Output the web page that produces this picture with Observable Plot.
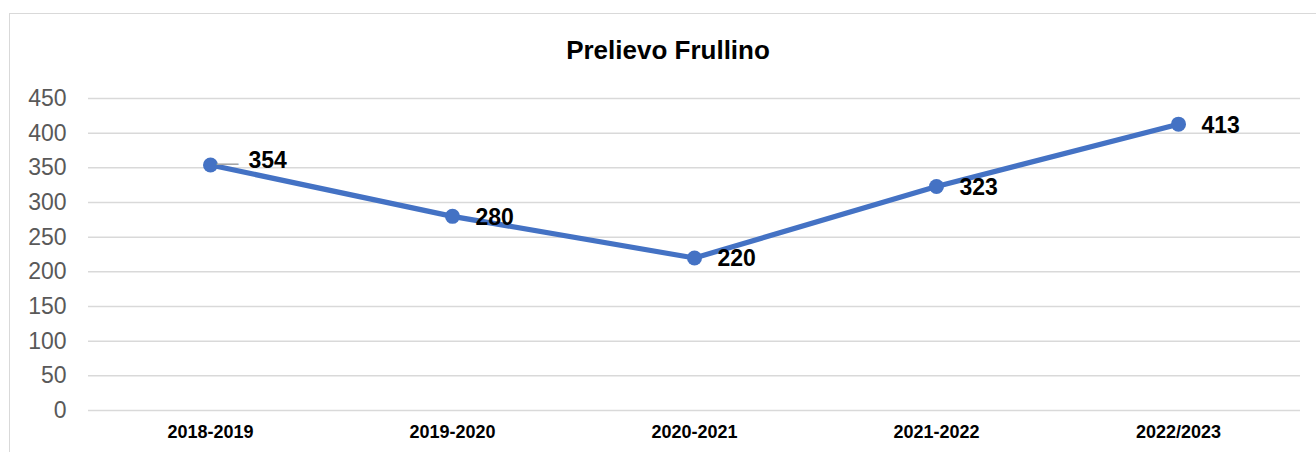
<!DOCTYPE html>
<html>
<head>
<meta charset="utf-8">
<script src="https://cdn.jsdelivr.net/npm/d3@7"></script>
<script src="https://cdn.jsdelivr.net/npm/@observablehq/plot@0.6"></script>
<style>
  html, body { margin: 0; padding: 0; background: #fff; overflow: hidden; }
  body { width: 1316px; height: 452px; position: relative; font-family: "Liberation Sans", Arial, sans-serif; }
  #frame { position: absolute; left: 9px; top: 13px; width: 1400px; height: 600px; border: 1.5px solid #d9d9d9; box-sizing: border-box; }
  #title { position: relative; box-sizing: border-box; width: 1316px; height: 70px; padding-top: 37px; padding-left: 20px; text-align: center; font-size: 26px; line-height: 26px; font-weight: bold; color: #000; }
  #chart { position: relative; }
  #chart svg { display: block; }
</style>
</head>
<body>
<div id="frame"></div>
<div id="title">Prelievo Frullino</div>
<div id="chart"></div>
<script>
const seasons = ["2018-2019", "2019-2020", "2020-2021", "2021-2022", "2022/2023"];
const prelievi = [354, 280, 220, 323, 413];
const yTicks = [0, 50, 100, 150, 200, 250, 300, 350, 400, 450];

const data = seasons.map((s, i) => ({season: s, value: prelievi[i]}));
const first = data.slice(0, 1);
const rest = data.slice(1);

const chart = Plot.plot({
  width: 1316,
  height: 382,
  marginTop: 28,
  marginBottom: 42,
  marginLeft: 88,
  marginRight: 16,
  style: {fontFamily: "'Liberation Sans', Arial, sans-serif", background: "transparent"},
  x: {type: "point", domain: seasons, padding: 0.5, label: null},
  y: {domain: [0, 450], ticks: yTicks, label: null},
  marks: [
    Plot.gridY(yTicks, {stroke: "#d9d9d9", strokeOpacity: 1, strokeWidth: 1.5}),
    Plot.axisY(yTicks, {tickSize: 0, tickPadding: 22, fontSize: 23, fill: "#595959", label: null}),
    Plot.axisX({tickSize: 0, tickPadding: 15, fontSize: 18, fontWeight: "bold", fill: "#000", label: null}),
    Plot.line(data, {x: "season", y: "value", stroke: "#4472C4", strokeWidth: 5.2, strokeLinejoin: "round", strokeLinecap: "round"}),
    Plot.dot(data, {x: "season", y: "value", r: 7.5, fill: "#4472C4", stroke: "none"}),
    Plot.text(first, {x: "season", y: "value", text: () => "\u2014", dx: 17, dy: -2, fontSize: 22, fill: "#a6a6a6"}),
    Plot.text(first, {x: "season", y: "value", text: d => String(d.value), textAnchor: "start", dx: 38, dy: -4, fontSize: 23, fontWeight: "bold", fill: "#000"}),
    Plot.text(rest, {x: "season", y: "value", text: d => String(d.value), textAnchor: "start", dx: 23, dy: 1, fontSize: 23, fontWeight: "bold", fill: "#000"})
  ]
});
document.getElementById("chart").appendChild(chart);
</script>
</body>
</html>
